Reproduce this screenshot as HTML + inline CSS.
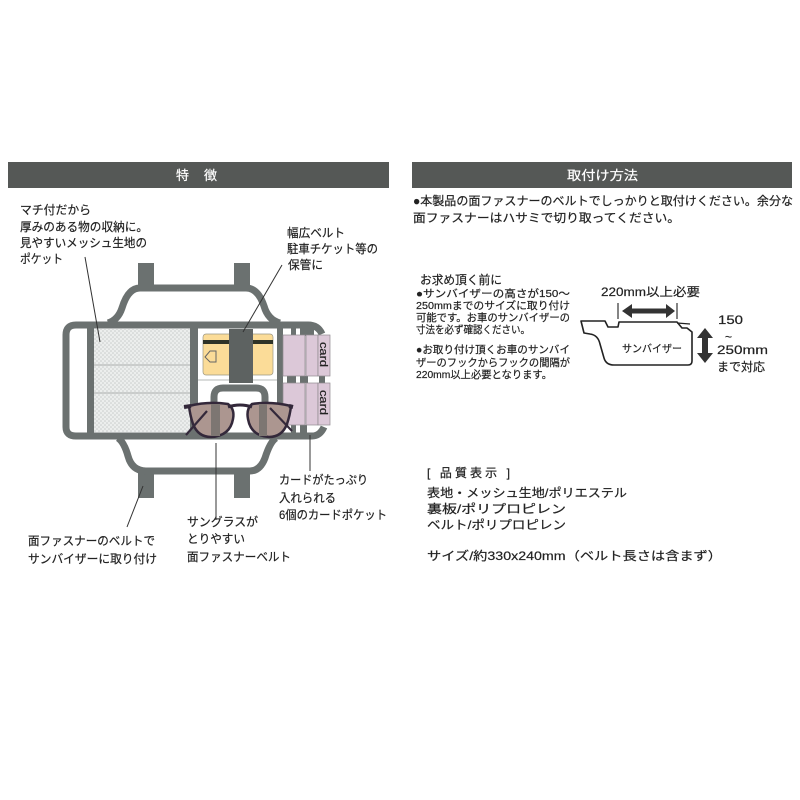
<!DOCTYPE html>
<html><head><meta charset="utf-8"><style>
html,body{margin:0;padding:0;background:#fff}
svg{display:block}
text{font-family:"Liberation Sans","Noto Sans CJK JP",sans-serif;font-size:12px;fill:#222;stroke:#222;stroke-width:0.200px}
.s{font-size:10.500px}
.h{fill:#fff;stroke:#fff;font-size:13px}
</style></head><body>
<svg width="800" height="800" viewBox="0 0 800 800" xmlns="http://www.w3.org/2000/svg">
<defs>
<pattern id="mesh" width="4" height="4" patternUnits="userSpaceOnUse">
<rect width="4" height="4" fill="#eceeed"/>
<circle cx="1" cy="1" r="0.8" fill="#c9cccb"/>
<circle cx="3" cy="3" r="0.8" fill="#c9cccb"/>
</pattern>
</defs>
<rect width="800" height="800" fill="#fff"/>

<!-- headers -->
<rect x="8" y="162" width="381" height="26" fill="#555856"/>
<rect x="412" y="162" width="380" height="26" fill="#555856"/>
<text x="176" y="180" class="h">特</text>
<text x="204" y="180" class="h">徴</text>
<text x="567" y="180" class="h" textLength="71" lengthAdjust="spacingAndGlyphs">取付け方法</text>

<!-- left labels -->
<text x="20" y="214" textLength="71" lengthAdjust="spacingAndGlyphs">マチ付だから</text>
<text x="20" y="231" textLength="128" lengthAdjust="spacingAndGlyphs">厚みのある物の収納に。</text>
<text x="20" y="247" textLength="127" lengthAdjust="spacingAndGlyphs">見やすいメッシュ生地の</text>
<text x="20" y="263" textLength="43" lengthAdjust="spacingAndGlyphs">ポケット</text>
<text x="287" y="237" textLength="58" lengthAdjust="spacingAndGlyphs">幅広ベルト</text>
<text x="287" y="253" textLength="91" lengthAdjust="spacingAndGlyphs">駐車チケット等の</text>
<text x="288" y="269" textLength="35" lengthAdjust="spacingAndGlyphs">保管に</text>
<text x="279" y="484" textLength="89" lengthAdjust="spacingAndGlyphs">カードがたっぷり</text>
<text x="279" y="502" textLength="57" lengthAdjust="spacingAndGlyphs">入れられる</text>
<text x="279" y="519" textLength="108" lengthAdjust="spacingAndGlyphs">6個のカードポケット</text>
<text x="187" y="526" textLength="71" lengthAdjust="spacingAndGlyphs">サングラスが</text>
<text x="187" y="543" textLength="58" lengthAdjust="spacingAndGlyphs">とりやすい</text>
<text x="187" y="561" textLength="104" lengthAdjust="spacingAndGlyphs">面ファスナーベルト</text>
<text x="28" y="545" textLength="127" lengthAdjust="spacingAndGlyphs">面ファスナーのベルトで</text>
<text x="28" y="563" textLength="129" lengthAdjust="spacingAndGlyphs">サンバイザーに取り付け</text>

<!-- organizer belts -->
<g fill="#6b7170">
<rect x="138" y="263" width="16" height="26"/>
<rect x="234" y="263" width="16" height="26"/>
<rect x="138" y="470" width="16" height="28"/>
<rect x="234" y="470" width="16" height="28"/>
</g>
<g fill="none" stroke="#6b7170" stroke-width="7" stroke-linejoin="round">
<path d="M108 323 Q118 320 122 308 Q128 288 140 288 L246 288 Q258 288 264 306 Q268 320 280 323"/>
<path d="M118 438 Q124 442 128 456 Q132 471 146 471 L250 471 Q260 471 265 458 Q270 442 276 438"/>
<path d="M322 334 Q318 325 308 325 L76 325 Q66 325 66 335 L66 427 Q66 436 76 436 L312 436 Q320 436 324 427"/>
</g>
<rect x="87" y="325" width="7" height="111" fill="#6b7170"/>
<rect x="190" y="325" width="8" height="111" fill="#6b7170"/>
<rect x="277" y="325" width="6" height="111" fill="#6b7170"/>
<rect x="94" y="329" width="96" height="103" fill="url(#mesh)"/>
<path d="M94 365H190M94 393H190" stroke="#b8bbba" stroke-width="1.200"/>

<!-- strips behind pockets -->
<g fill="#6b7170">
<rect x="291" y="328" width="5" height="8"/>
<rect x="300" y="328" width="6" height="8"/>
<rect x="306" y="328" width="8" height="8"/>
<rect x="287" y="376" width="9" height="7"/>
<rect x="300" y="376" width="8" height="7"/>
<rect x="319" y="376" width="6" height="7"/>
<rect x="291" y="425" width="5" height="9"/>
<rect x="300" y="425" width="7" height="9"/>
</g>

<!-- ticket -->
<rect x="203" y="334" width="70" height="41" rx="3" fill="#fbdc98" stroke="#9b9684" stroke-width="0.700"/>
<rect x="203" y="340" width="70" height="4" fill="#2f3327"/>
<path d="M205 357 L210 351 L216 351 L216 362 L210 362 Z" fill="none" stroke="#666" stroke-width="1"/>
<line x1="198" y1="380" x2="277" y2="380" stroke="#b5b8b7" stroke-width="1"/>
<rect x="229" y="329" width="24" height="54" fill="#5d6261"/>
<path d="M214 412 L214 397 Q214 388 223 388 L256 388 Q265 388 265 397 L265 412" fill="none" stroke="#6b7170" stroke-width="7"/>

<!-- pockets -->
<g fill="#dcc8d8" stroke="#8f8a90" stroke-width="0.700">
<rect x="283" y="335" width="22" height="41"/>
<rect x="306" y="335" width="12" height="41"/>
<rect x="318" y="335" width="12" height="41"/>
<rect x="283" y="383" width="22" height="42"/>
<rect x="306" y="383" width="12" height="42"/>
<rect x="318" y="383" width="12" height="42"/>
</g>
<text transform="translate(320 342) rotate(90)" style="font-size:11px" textLength="25" lengthAdjust="spacingAndGlyphs">card</text>
<text transform="translate(320 390) rotate(90)" style="font-size:11px" textLength="25" lengthAdjust="spacingAndGlyphs">card</text>

<!-- glasses -->
<path d="M189 406 Q208 401 228 404 Q235 409 233 419 Q230 436 211 437 Q198 437 193 424 Q190 415 189 406 Z" fill="#ac9690" stroke="#33283a" stroke-width="2.500"/>
<path d="M291 406 Q270 401 252 404 Q246 409 248 419 Q251 436 269 437 Q282 437 287 424 Q290 415 291 406 Z" fill="#ac9690" stroke="#33283a" stroke-width="2.500"/>
<rect x="211" y="404" width="9" height="32" fill="#7d7672"/>
<rect x="259" y="404" width="8" height="32" fill="#7d7672"/>
<path d="M228 407 Q240 403 252 407" fill="none" stroke="#33283a" stroke-width="3"/>
<path d="M184 407 L191 406 M289 406 L293 407" stroke="#33283a" stroke-width="4" fill="none"/>
<path d="M186 435 L207 411 M292 431 L270 408" stroke="#33283a" stroke-width="2.200" fill="none"/>

<!-- leaders -->
<g stroke="#333" stroke-width="1" fill="none">
<line x1="85" y1="257" x2="100" y2="342"/>
<line x1="282" y1="265" x2="243" y2="332"/>
<line x1="216" y1="443" x2="216" y2="520"/>
<line x1="310" y1="435" x2="310" y2="471"/>
<line x1="143" y1="486" x2="127" y2="527"/>
</g>

<!-- install text -->
<text x="413" y="205" textLength="380" lengthAdjust="spacingAndGlyphs">●本製品の面ファスナーのベルトでしっかりと取付けください。余分な</text>
<text x="413" y="222" textLength="267" lengthAdjust="spacingAndGlyphs">面ファスナーはハサミで切り取ってください。</text>
<text x="420" y="284" textLength="82" lengthAdjust="spacingAndGlyphs">お求め頂く前に</text>
<text x="416" y="297" class="s" textLength="154" lengthAdjust="spacingAndGlyphs">●サンバイザーの高さが150～</text>
<text x="416" y="309" class="s" textLength="154" lengthAdjust="spacingAndGlyphs">250mmまでのサイズに取り付け</text>
<text x="416" y="321" class="s" textLength="154" lengthAdjust="spacingAndGlyphs">可能です。お車のサンバイザーの</text>
<text x="416" y="333" class="s" textLength="114" lengthAdjust="spacingAndGlyphs">寸法を必ず確認ください。</text>
<text x="416" y="353" class="s" textLength="154" lengthAdjust="spacingAndGlyphs">●お取り付け頂くお車のサンバイ</text>
<text x="416" y="366" class="s" textLength="154" lengthAdjust="spacingAndGlyphs">ザーのフックからフックの間隔が</text>
<text x="416" y="378" class="s" textLength="136" lengthAdjust="spacingAndGlyphs">220mm以上必要となります。</text>

<!-- visor diagram -->
<text x="601" y="296" textLength="99" lengthAdjust="spacingAndGlyphs">220mm以上必要</text>
<path d="M618 303V319M677 303V319" stroke="#333" stroke-width="1.200"/>
<path d="M622 311L632 304V308.500H666V304L675 311L666 318V313.500H632V318Z" fill="#333"/>
<path d="M581 321 L605 321 L608 327 L618 327 L619 322 L677 322 L682 328 L687 328 L692 332 L692 361 Q692 365 688 365 L614 365 Q606 365 604 358 L600 344 Q598 335 590 334 L584 333 Z" fill="#fff" stroke="#222" stroke-width="1.600" stroke-linejoin="round"/>
<path d="M677 323 L690 324" stroke="#222" stroke-width="1.200"/>
<text x="622" y="352" class="s" textLength="60" lengthAdjust="spacingAndGlyphs">サンバイザー</text>
<path d="M705 328 L713 338 H708 V353 H713 L705 363 L697 353 H702 V338 H697 Z" fill="#333"/>
<text x="718" y="324" textLength="25" lengthAdjust="spacingAndGlyphs">150</text>
<text x="725" y="341">~</text>
<text x="717" y="354" textLength="51" lengthAdjust="spacingAndGlyphs">250mm</text>
<text x="717" y="371" textLength="48" lengthAdjust="spacingAndGlyphs">まで対応</text>

<!-- quality -->
<text x="427" y="477" textLength="83" lengthAdjust="spacing">[ 品質表示 ]</text>
<text x="427" y="497" textLength="200" lengthAdjust="spacingAndGlyphs">表地・メッシュ生地/ポリエステル</text>
<text x="427" y="513" textLength="139" lengthAdjust="spacingAndGlyphs">裏板/ポリプロピレン</text>
<text x="427" y="529" textLength="139" lengthAdjust="spacingAndGlyphs">ベルト/ポリプロピレン</text>
<text x="427" y="560" textLength="295" lengthAdjust="spacingAndGlyphs">サイズ/約330x240mm（ベルト長さは含まず）</text>
</svg>
</body></html>
